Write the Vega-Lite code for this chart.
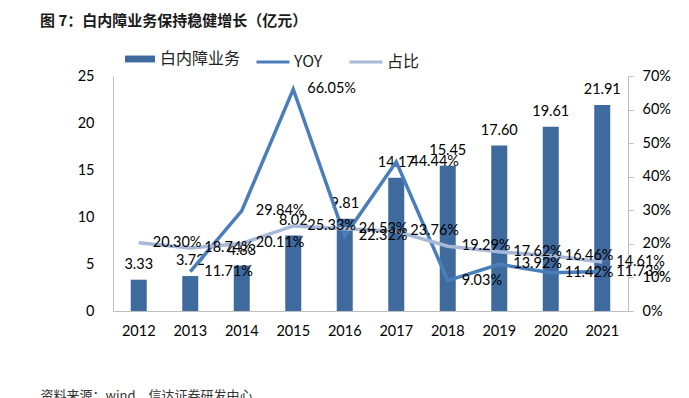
{
  "$schema": "https://vega.github.io/schema/vega-lite/v6.json",
  "width": 515,
  "height": 235,
  "autosize": {"type": "none"},
  "padding": {"left": 113, "top": 76, "right": 61, "bottom": 87},
  "background": "white",
  "title": {
    "text": "图 7：白内障业务保持稳健增长（亿元）",
    "anchor": "start",
    "frame": "group",
    "dx": -73,
    "offset": 8,
    "font": "Noto Sans CJK SC",
    "fontSize": 15,
    "fontWeight": "bold",
    "color": "#1a1a1a",
    "baseline": "middle"
  },
  "datasets": {
    "bars": [
      {"year": "2012", "rev": 3.33},
      {"year": "2013", "rev": 3.72},
      {"year": "2014", "rev": 4.83},
      {"year": "2015", "rev": 8.02},
      {"year": "2016", "rev": 9.81},
      {"year": "2017", "rev": 14.17},
      {"year": "2018", "rev": 15.45},
      {"year": "2019", "rev": 17.60},
      {"year": "2020", "rev": 19.61},
      {"year": "2021", "rev": 21.91}
    ],
    "lines": [
      {"year": "2013", "series": "YOY", "pct": 0.1171},
      {"year": "2014", "series": "YOY", "pct": 0.2984},
      {"year": "2015", "series": "YOY", "pct": 0.6605},
      {"year": "2016", "series": "YOY", "pct": 0.2232},
      {"year": "2017", "series": "YOY", "pct": 0.4444},
      {"year": "2018", "series": "YOY", "pct": 0.0903},
      {"year": "2019", "series": "YOY", "pct": 0.1392},
      {"year": "2020", "series": "YOY", "pct": 0.1142},
      {"year": "2021", "series": "YOY", "pct": 0.1173},
      {"year": "2012", "series": "占比", "pct": 0.2030},
      {"year": "2013", "series": "占比", "pct": 0.1874},
      {"year": "2014", "series": "占比", "pct": 0.2011},
      {"year": "2015", "series": "占比", "pct": 0.2533},
      {"year": "2016", "series": "占比", "pct": 0.2453},
      {"year": "2017", "series": "占比", "pct": 0.2376},
      {"year": "2018", "series": "占比", "pct": 0.1929},
      {"year": "2019", "series": "占比", "pct": 0.1762},
      {"year": "2020", "series": "占比", "pct": 0.1646},
      {"year": "2021", "series": "占比", "pct": 0.1461}
    ]
  },
  "encoding": {
    "x": {
      "field": "year",
      "type": "ordinal",
      "scale": {"paddingInner": 0, "paddingOuter": 0},
      "axis": {
        "title": "资料来源：wind，信达证券研发中心",
        "titleX": -73,
        "titleY": 78,
        "titleAlign": "left",
        "titleBaseline": "top",
        "titleFont": "Noto Sans CJK SC",
        "titleFontSize": 13,
        "titleFontWeight": "normal",
        "titleColor": "#333333",
        "labelAngle": 0,
        "labelFont": "Lato",
        "labelFontSize": 14.5,
        "labelColor": "#000000",
        "labelPadding": 13,
        "ticks": false,
        "tickSize": 0,
        "domainColor": "#BFBFBF",
        "grid": false
      }
    }
  },
  "layer": [
    {
      "data": {"name": "bars"},
      "encoding": {
        "y": {
          "field": "rev",
          "type": "quantitative",
          "scale": {"domain": [0, 25]},
          "axis": {
            "title": null,
            "values": [0, 5, 10, 15, 20, 25],
            "grid": false,
            "ticks": false,
            "tickSize": 0,
            "labelPadding": 19,
            "labelFont": "Lato",
            "labelFontSize": 14.5,
            "labelColor": "#000000",
            "domainColor": "#BFBFBF"
          }
        }
      },
      "layer": [
        {
          "mark": {"type": "bar", "size": 16},
          "encoding": {
            "fill": {
              "datum": "白内障业务",
              "type": "nominal",
              "scale": {"range": ["#3F6A9E"]},
              "legend": {
                "title": null,
                "orient": "none",
                "legendX": 12,
                "legendY": -32,
                "padding": 0,
                "symbolType": "M-1,-0.23H1V0.23H-1Z",
                "symbolSize": 900,
                "symbolStrokeWidth": 0,
                "labelFont": "Noto Sans CJK SC",
                "labelFontSize": 16,
                "labelColor": "#222222",
                "labelOffset": 5
              }
            }
          }
        },
        {
          "mark": {"type": "text", "baseline": "bottom", "dy": -8, "font": "Lato", "fontSize": 14.5, "color": "#000000"},
          "encoding": {"text": {"field": "rev", "type": "quantitative", "format": ".2f"}}
        }
      ]
    },
    {
      "data": {"name": "lines"},
      "encoding": {
        "y": {
          "field": "pct",
          "type": "quantitative",
          "scale": {"domain": [0, 0.7]},
          "axis": {
            "orient": "right",
            "title": null,
            "format": ".0%",
            "values": [0, 0.1, 0.2, 0.3, 0.4, 0.5, 0.6, 0.7],
            "grid": false,
            "ticks": true,
            "tickSize": 5,
            "tickColor": "#BFBFBF",
            "labelPadding": 9,
            "labelFont": "Lato",
            "labelFontSize": 14.5,
            "labelColor": "#000000",
            "domainColor": "#BFBFBF"
          }
        }
      },
      "layer": [
        {
          "mark": {"type": "line", "strokeWidth": 3.5},
          "encoding": {
            "stroke": {
              "field": "series",
              "type": "nominal",
              "scale": {"domain": ["YOY", "占比"], "range": ["#4A7EBB", "#A7B9D8"]},
              "legend": {
                "title": null,
                "orient": "none",
                "direction": "horizontal",
                "legendX": 142,
                "legendY": -32,
                "padding": 0,
                "symbolType": "stroke",
                "symbolSize": 1089,
                "symbolStrokeWidth": 3,
                "labelFont": "Noto Sans CJK SC",
                "labelFontSize": 16,
                "labelColor": "#222222",
                "labelOffset": 3,
                "columnPadding": 20
              }
            }
          }
        },
        {
          "mark": {"type": "text", "align": "left", "baseline": "middle", "dx": 14, "font": "Lato", "fontSize": 14.5, "color": "#000000"},
          "encoding": {"text": {"field": "pct", "type": "quantitative", "format": ".2%"}}
        }
      ]
    }
  ],
  "resolve": {"scale": {"y": "independent", "fill": "independent", "stroke": "independent"}},
  "config": {"view": {"stroke": null}}
}
